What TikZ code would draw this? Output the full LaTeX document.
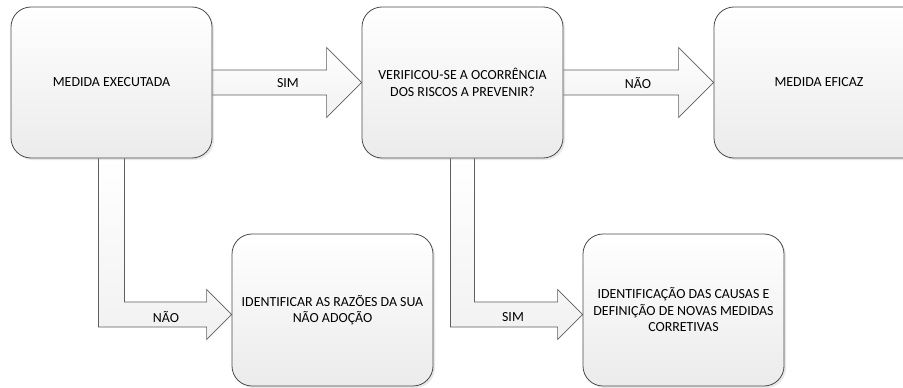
\documentclass[tikz,border=0pt]{standalone}
\usepackage{fontspec}
\setmainfont{Carlito}
\usetikzlibrary{calc,shadows,backgrounds}
\definecolor{edge}{HTML}{4A4A4A}
\definecolor{arrowedge}{HTML}{5E5E5E}
\definecolor{boxbottom}{HTML}{EBEBEB}
\tikzset{
  box/.style={draw=edge, line width=0.8pt, rounded corners=20pt,
    top color=white, bottom color=boxbottom, align=center,
    font=\fontsize{13.9}{16.5}\selectfont,
    drop shadow={shadow xshift=2pt, shadow yshift=-2pt, opacity=0.18}},
  bigarrow/.style={draw=arrowedge, line width=0.7pt, line join=miter,
    top color=white, bottom color=boxbottom!70},
  lbl/.style={font=\fontsize{13.9}{16.5}\selectfont, inner sep=0pt}
}
\begin{document}
\begin{tikzpicture}[x=1pt,y=1pt]
\useasboundingbox (0,0) rectangle (903,-388);
% boxes
\node[box, minimum width=201pt, minimum height=151pt] (b1) at (111.5,-82.5) {MEDIDA EXECUTADA};
\node[box, minimum width=201pt, minimum height=151pt] (b2) at (462.5,-82.5) {VERIFICOU-SE A OCORRÊNCIA\\DOS RISCOS A PREVENIR?};
\node[box, minimum width=210pt, minimum height=151pt] (b3) at (819,-82.5) {MEDIDA EFICAZ};
\node[box, minimum width=201pt, minimum height=152pt] (b4) at (332.5,-310) {IDENTIFICAR AS RAZÕES DA SUA\\NÃO ADOÇÃO};
\node[box, minimum width=201pt, minimum height=152pt] (b5) at (683.5,-310) {IDENTIFICAÇÃO DAS CAUSAS E\\DEFINIÇÃO DE NOVAS MEDIDAS\\CORRETIVAS};
\coordinate (t1) at ($(b4.west)+(0,-4.5)$);
\coordinate (t2) at ($(b5.west)+(0,-4.5)$);
\begin{scope}[on background layer]
\fill[white] (0,0) rectangle (903,-388);
% top arrows
\draw[bigarrow] ($(b1.east)+(0,12.5)$) -- ($(b2.west)+(-35,12.5)$) -- ($(b2.west)+(-35,35)$) -- (b2.west)
  -- ($(b2.west)+(-35,-35)$) -- ($(b2.west)+(-35,-12.5)$) -- ($(b1.east)+(0,-12.5)$);
\draw[bigarrow] ($(b2.east)+(0,12.5)$) -- ($(b3.west)+(-35,12.5)$) -- ($(b3.west)+(-35,35)$) -- (b3.west)
  -- ($(b3.west)+(-35,-35)$) -- ($(b3.west)+(-35,-12.5)$) -- ($(b2.east)+(0,-12.5)$);
% bent arrows
\draw[bigarrow] ($(b1.south)+(-13,0)$) |- ($(t1)+(-25,-12.5)$) -- ($(t1)+(-25,-25)$) -- (t1)
  -- ($(t1)+(-25,25)$) -- ($(t1)+(-25,12.5)$) -| ($(b1.south)+(13,0)$);
\draw[bigarrow] ($(b2.south)+(-12,0)$) |- ($(t2)+(-25,-12.5)$) -- ($(t2)+(-25,-25)$) -- (t2)
  -- ($(t2)+(-25,25)$) -- ($(t2)+(-25,12.5)$) -| ($(b2.south)+(12,0)$);
\end{scope}
% labels
\node[lbl] (l1) at (288,-83) {SIM};
\node[lbl] (l2) at (638,-83) {NÃO};
\node[lbl] (l3) at (166,-317) {NÃO};
\node[lbl] (l4) at (513,-317) {SIM};
\end{tikzpicture}
\end{document}
